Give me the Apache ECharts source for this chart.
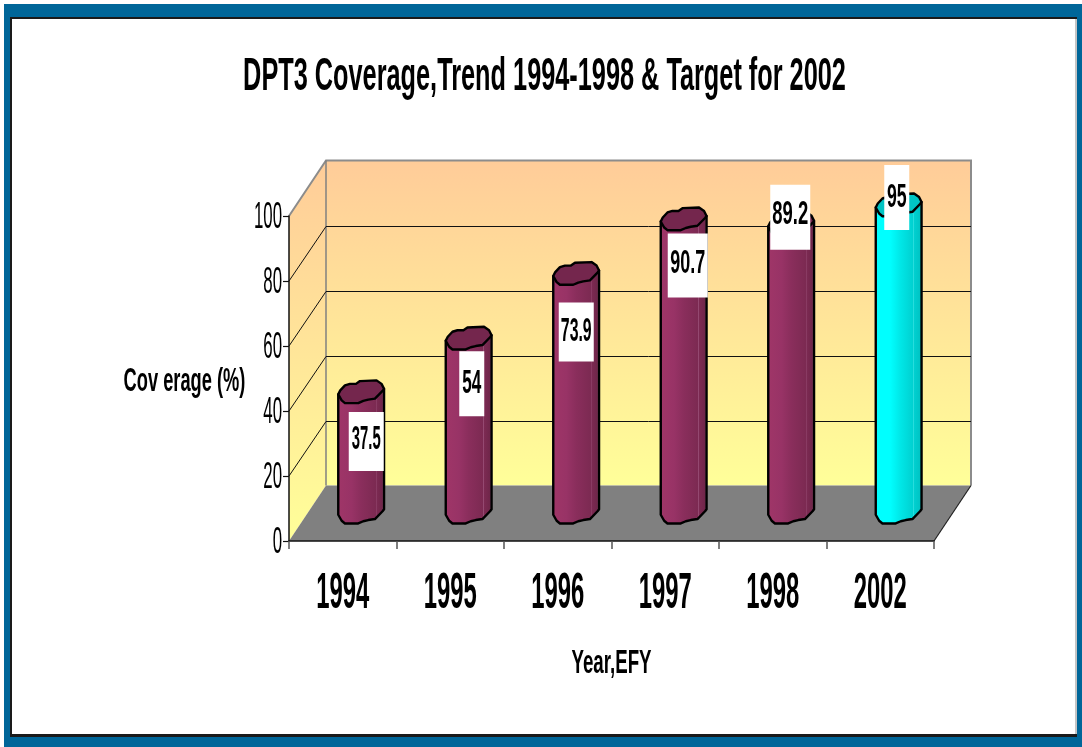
<!DOCTYPE html>
<html>
<head>
<meta charset="utf-8">
<style>html,body{margin:0;padding:0;background:#fff}#c{width:1082px;height:747px}</style>
<script src="https://cdn.jsdelivr.net/npm/echarts@6/dist/echarts.min.js"></script>
</head>
<body>
<div id="c"></div>
<script>
const titleText = 'DPT3 Coverage,Trend 1994-1998 & Target for 2002';
const yAxisTitle = 'Cov erage (%)';
const xAxisTitle = 'Year,EFY';
const categories = ['1994', '1995', '1996', '1997', '1998', '2002'];
const coverage = [37.5, 54, 73.9, 90.7, 89.2, 95];
const yTicks = [0, 20, 40, 60, 80, 100];
const gridLineTicks = [20, 40, 60, 80];

// layout constants (separate from the data)
const FONT = '"Liberation Sans", Arial, sans-serif';
const DEPTH = [37, -55.5];
const TEXT_NUDGE = 2;
// per label: box dx, box dy, box width, box height, text dy, text x-scale
const labelBoxes = [[5, 50, 35, 59, -3, 0.45], [3, 46, 25, 65, -2, 0.52], [0, 59, 35, 59, -2, 0.48],
  [4, 47, 40, 64, -4, 0.545], [-1, -6, 40, 65, -4, 0.56], [-2, -7, 25, 65, -2, 0.537]];
const capOutline = [[-23, 2.5], [-21, -1.5], [-16.3, -6.5], [-11.3, -8], [-5.3, -8], [-1.3, -10.8], [15.3, -11.5], [20.3, -8], [22.8, -3],
  [21.3, -1], [13.7, 6.8], [7, 7.8], [2, 9], [-3, 11.2], [-16.3, 11.2], [-19.6, 8.5]];
const RIGHT_INDEX = 8;

const G = (stops, x2, y2) => new echarts.graphic.LinearGradient(0, 0, x2, y2, stops.map(s => ({offset: s[0], color: s[1]})));
const purple = {body: () => G([[0, '#A03668'], [0.3, '#983366'], [0.5, '#8A2E5C'], [0.8, '#7C2A52'], [0.81, '#9A5078'], [0.825, '#7C2A52'],
  [0.94, '#70264A'], [0.95, '#8A4A6A'], [0.965, '#6E2848'], [1, '#6E2848']], 1, 0), cap: '#74264D'};
const cyan = {body: () => G([[0, '#00FFFF'], [0.32, '#00FFFF'], [0.55, '#00E6E6'], [0.8, '#00D0D0'], [0.81, '#30E0E0'], [0.825, '#00D0D0'], [1, '#00BEBE']], 1, 0), cap: '#00C4C4'};

const chart = echarts.init(document.getElementById('c'), null, {renderer: 'canvas'});

function narrowText(x, y, text, fontSize, weight, scale, align) {
  return {type: 'text', x, y: y + TEXT_NUDGE, scaleX: scale,
    style: {text, fontSize, fontWeight: weight, fontFamily: FONT, fill: '#000', align: align || 'center', verticalAlign: 'middle'}};
}

function renderWalls(params, api) {
  const c = params.coordSys;
  const x0 = c.x, x1 = c.x + c.width, yT = c.y, yB = c.y + c.height;
  const dx = DEPTH[0], dy = DEPTH[1];
  const wall = () => G([[0, '#FFCC99'], [1, '#FFFF99']], 0, 1);
  return {type: 'group', children: [
    {type: 'polygon', shape: {points: [[x0, yB], [x0 + dx, yB + dy], [x0 + dx, yT + dy], [x0, yT]]}, style: {fill: wall()}},
    {type: 'rect', shape: {x: x0 + dx, y: yT + dy, width: c.width, height: c.height}, style: {fill: wall()}},
    {type: 'polygon', shape: {points: [[x0, yB], [x1, yB], [x1 + dx, yB + dy], [x0 + dx, yB + dy]]}, style: {fill: '#808080'}},
    {type: 'polyline', shape: {points: [[x0, yT], [x0 + dx, yT + dy], [x1 + dx, yT + dy], [x1 + dx, yB + dy]]}, style: {fill: 'none', stroke: '#8c8c8c', lineWidth: 2}},
    {type: 'line', shape: {x1: x0 + dx, y1: yT + dy, x2: x0 + dx, y2: yB + dy}, style: {stroke: '#808080', lineWidth: 1.5}},
    {type: 'line', shape: {x1: x1, y1: yB, x2: x1 + dx, y2: yB + dy}, style: {stroke: '#222', lineWidth: 1.2}}
  ]};
}

function renderGridLine(params, api) {
  const c = params.coordSys;
  const y = api.coord([0, api.value(1)])[1];
  const dx = DEPTH[0];
  const backY = Math.floor(y + DEPTH[1] + 1) + 0.5;
  return {type: 'polyline', shape: {points: [[c.x, y], [c.x + dx, backY], [c.x + c.width + dx, backY]]},
    style: {fill: 'none', stroke: '#111', lineWidth: 1}};
}

function renderCylinder(params, api) {
  const i = api.value(0);
  const top = api.coord([i, api.value(1)]);
  const base = api.coord([i, 0]);
  const cx = top[0] + DEPTH[0] / 2;
  const topY = top[1] + DEPTH[1] / 2 + 0.5;
  const baseY = base[1] + DEPTH[1] / 2 - 1;
  const scheme = i === categories.length - 1 ? cyan : purple;
  const at = (p, y) => [cx + p[0], y + p[1]];
  const lower = capOutline.slice(RIGHT_INDEX).concat([capOutline[0]]);
  const bodyPts = [at(capOutline[0], topY), at(capOutline[RIGHT_INDEX], topY)]
    .concat(lower.map(p => at(p, baseY)));
  const line = {stroke: '#000', lineWidth: 2.4, lineJoin: 'round'};
  return {type: 'group', children: [
    {type: 'polygon', shape: {points: bodyPts}, style: Object.assign({fill: scheme.body()}, line)},
    {type: 'polygon', shape: {points: capOutline.map(p => at(p, topY))}, style: Object.assign({fill: scheme.cap}, line)}
  ]};
}

function renderValueLabel(params, api) {
  const i = api.value(0);
  const top = api.coord([i, api.value(1)]);
  const b = labelBoxes[i];
  const cx = top[0] + DEPTH[0] / 2 + b[0];
  const cy = top[1] + DEPTH[1] / 2 + b[1];
  return {type: 'group', children: [
    {type: 'rect', shape: {x: cx - b[2] / 2, y: cy - b[3] / 2, width: b[2], height: b[3]}, style: {fill: '#fff'}},
    narrowText(cx, cy + b[4], String(coverage[i]), 33, 'bold', b[5])
  ]};
}

function renderXLabel(params, api) {
  const p = api.coord([api.value(0), 0]);
  return narrowText(p[0], 592, categories[api.value(0)], 50, 'bold', 0.477);
}

function renderYLabel(params, api) {
  const p = api.coord([0, api.value(1)]);
  return narrowText(params.coordSys.x - 7, p[1], String(api.value(1)), 37, 'normal', 0.455, 'right');
}

const custom = (name, z, data, renderItem) => ({type: 'custom', name, z, data, renderItem, silent: true, clip: false, animation: false,
  encode: {x: 0, y: 1}});

chart.setOption({
  animation: false,
  backgroundColor: '#fff',
  grid: {left: 289, top: 216, width: 645, height: 325, containLabel: false},
  xAxis: {type: 'category', data: categories, z: 3,
    axisLine: {onZero: false, lineStyle: {color: '#111', width: 1.5}},
    axisTick: {show: true, length: 8, alignWithLabel: false, lineStyle: {color: '#555', width: 1.5}},
    axisLabel: {show: false}, splitLine: {show: false}},
  yAxis: {type: 'value', min: 0, max: 100, interval: 20, z: 3,
    axisLine: {show: true, lineStyle: {color: '#111', width: 1.5}},
    axisTick: {show: true, length: 6, lineStyle: {color: '#111', width: 1.2}},
    axisLabel: {show: false}, splitLine: {show: false}},
  graphic: {elements: [
    {type: 'rect', z: -30, silent: true, shape: {x: 4, y: 4, width: 1078, height: 743}, style: {fill: '#006699'}},
    {type: 'rect', z: -29, silent: true, shape: {x: 10, y: 17, width: 1067, height: 720}, style: {fill: '#1a1a1a'}},
    {type: 'rect', z: -28, silent: true, shape: {x: 12, y: 19, width: 1065, height: 715}, style: {fill: '#c4c4c4'}},
    {type: 'rect', z: -27, silent: true, shape: {x: 12, y: 19, width: 1063, height: 715}, style: {fill: '#fff'}},
    Object.assign(narrowText(544.5, 75, titleText, 46, 'bold', 0.55), {z: 20, silent: true}),
    Object.assign(narrowText(184.5, 380, yAxisTitle, 34, 'bold', 0.537), {z: 20, silent: true}),
    Object.assign(narrowText(611.5, 662, xAxisTitle, 34, 'bold', 0.55), {z: 20, silent: true})
  ]},
  series: [
    custom('walls', 1, [[0, 0]], renderWalls),
    custom('gridlines', 2, gridLineTicks.map(t => [0, t]), renderGridLine),
    custom('coverage', 4, coverage.map((v, i) => [i, v]), renderCylinder),
    custom('valueLabels', 5, coverage.map((v, i) => [i, v]), renderValueLabel),
    custom('xLabels', 6, categories.map((c, i) => [i, 0]), renderXLabel),
    custom('yLabels', 6, yTicks.map(t => [0, t]), renderYLabel)
  ]
});
</script>
</body>
</html>
